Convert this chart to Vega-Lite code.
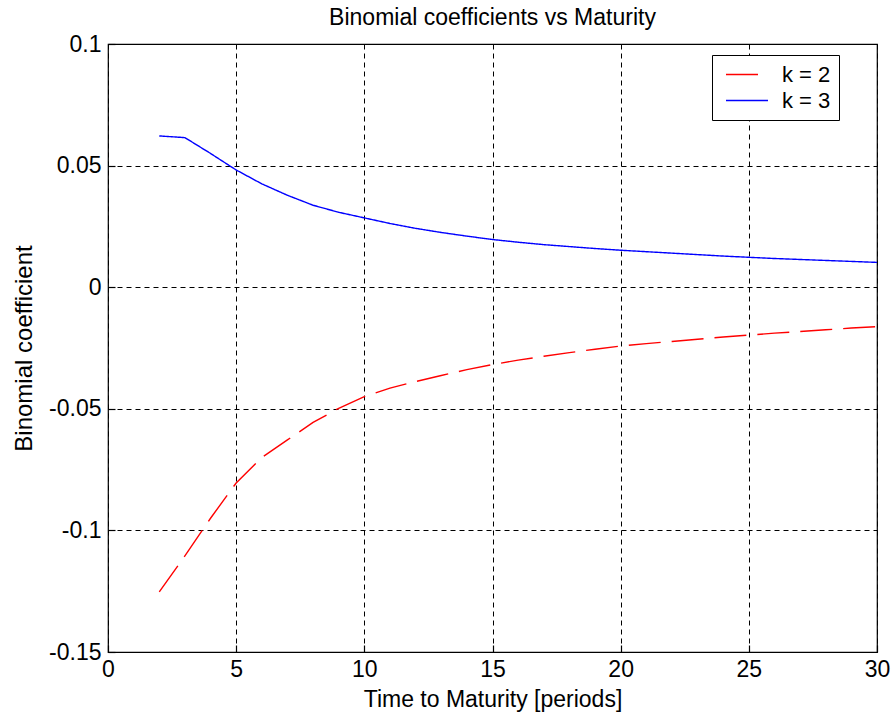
{
  "$schema": "https://vega.github.io/schema/vega-lite/v6.json",
  "width": 769,
  "height": 608,
  "autosize": {"type": "none"},
  "padding": {"left": 108, "top": 44, "right": 15, "bottom": 68},
  "background": "white",
  "title": {"text": "Binomial coefficients vs Maturity", "fontSize": 23, "fontWeight": "normal", "font": "Liberation Sans", "color": "black", "offset": 3, "anchor": "middle"},
  "data": {"values": [
    {"n": 2, "k": "k = 2", "v": -0.1253}, {"n": 3, "k": "k = 2", "v": -0.1105}, {"n": 4, "k": "k = 2", "v": -0.0950}, {"n": 5, "k": "k = 2", "v": -0.0805}, {"n": 6, "k": "k = 2", "v": -0.0700}, {"n": 7, "k": "k = 2", "v": -0.0628}, {"n": 8, "k": "k = 2", "v": -0.0556}, {"n": 9, "k": "k = 2", "v": -0.0498}, {"n": 10, "k": "k = 2", "v": -0.0450}, {"n": 11, "k": "k = 2", "v": -0.0415}, {"n": 12, "k": "k = 2", "v": -0.0388}, {"n": 13, "k": "k = 2", "v": -0.0363}, {"n": 14, "k": "k = 2", "v": -0.0339}, {"n": 15, "k": "k = 2", "v": -0.0318}, {"n": 16, "k": "k = 2", "v": -0.0300}, {"n": 17, "k": "k = 2", "v": -0.0284}, {"n": 18, "k": "k = 2", "v": -0.0269}, {"n": 19, "k": "k = 2", "v": -0.0255}, {"n": 20, "k": "k = 2", "v": -0.0242}, {"n": 21, "k": "k = 2", "v": -0.0232}, {"n": 22, "k": "k = 2", "v": -0.0223}, {"n": 23, "k": "k = 2", "v": -0.0214}, {"n": 24, "k": "k = 2", "v": -0.0205}, {"n": 25, "k": "k = 2", "v": -0.0197}, {"n": 26, "k": "k = 2", "v": -0.0189}, {"n": 27, "k": "k = 2", "v": -0.0182}, {"n": 28, "k": "k = 2", "v": -0.0175}, {"n": 29, "k": "k = 2", "v": -0.0168}, {"n": 30, "k": "k = 2", "v": -0.0162},
    {"n": 2, "k": "k = 3", "v": 0.0622}, {"n": 3, "k": "k = 3", "v": 0.0615}, {"n": 4, "k": "k = 3", "v": 0.0550}, {"n": 5, "k": "k = 3", "v": 0.0482}, {"n": 6, "k": "k = 3", "v": 0.0425}, {"n": 7, "k": "k = 3", "v": 0.0378}, {"n": 8, "k": "k = 3", "v": 0.0337}, {"n": 9, "k": "k = 3", "v": 0.0308}, {"n": 10, "k": "k = 3", "v": 0.0285}, {"n": 11, "k": "k = 3", "v": 0.0262}, {"n": 12, "k": "k = 3", "v": 0.0242}, {"n": 13, "k": "k = 3", "v": 0.0225}, {"n": 14, "k": "k = 3", "v": 0.0210}, {"n": 15, "k": "k = 3", "v": 0.0196}, {"n": 16, "k": "k = 3", "v": 0.0185}, {"n": 17, "k": "k = 3", "v": 0.0175}, {"n": 18, "k": "k = 3", "v": 0.0167}, {"n": 19, "k": "k = 3", "v": 0.0159}, {"n": 20, "k": "k = 3", "v": 0.0152}, {"n": 21, "k": "k = 3", "v": 0.0146}, {"n": 22, "k": "k = 3", "v": 0.0140}, {"n": 23, "k": "k = 3", "v": 0.0134}, {"n": 24, "k": "k = 3", "v": 0.0128}, {"n": 25, "k": "k = 3", "v": 0.0123}, {"n": 26, "k": "k = 3", "v": 0.0118}, {"n": 27, "k": "k = 3", "v": 0.0114}, {"n": 28, "k": "k = 3", "v": 0.0110}, {"n": 29, "k": "k = 3", "v": 0.0106}, {"n": 30, "k": "k = 3", "v": 0.0102}
  ]},
  "mark": {"type": "line", "strokeWidth": 1.4, "interpolate": "linear"},
  "encoding": {
    "x": {"field": "n", "type": "quantitative", "scale": {"domain": [0, 30], "nice": false, "zero": false},
      "axis": {"title": "Time to Maturity [periods]", "values": [0, 5, 10, 15, 20, 25, 30], "labelExpr": "datum.value + ''", "titlePadding": 7}},
    "y": {"field": "v", "type": "quantitative", "scale": {"domain": [-0.15, 0.1], "nice": false, "zero": false},
      "axis": {"title": "Binomial coefficient", "values": [-0.15, -0.1, -0.05, 0, 0.05, 0.1], "labelExpr": "datum.value + ''", "titlePadding": 12, "titleFontSize": 24}},
    "color": {"field": "k", "type": "nominal", "scale": {"domain": ["k = 2", "k = 3"], "range": ["#ff0000", "#0000ff"]},
      "legend": {"title": null, "orient": "none", "legendX": 604, "legendY": 11, "symbolType": "M-0.524,0H3.476", "symbolSize": 441, "symbolStrokeWidth": 1.4, "symbolFillColor": "transparent", "labelFontSize": 22, "labelFont": "Liberation Sans", "labelColor": "black", "labelOffset": 39, "padding": 8, "rowPadding": 3, "strokeColor": "black", "fillColor": "white", "labelExpr": "datum.label + '\u00a0\u00a0\u00a0\u00a0'"}},
    "strokeDash": {"field": "k", "type": "nominal", "scale": {"domain": ["k = 2", "k = 3"], "range": [[32, 11], [1, 0]]}, "legend": null}
  },
  "config": {
    "view": {"stroke": "black", "strokeWidth": 1.2},
    "axis": {
      "domain": false,
      "grid": true, "gridColor": "black", "gridDash": [5, 4], "gridWidth": 1, "gridOpacity": 1,
      "ticks": true, "tickColor": "black", "tickSize": -7, "tickWidth": 1.2,
      "labelFont": "Liberation Sans", "labelFontSize": 23, "labelColor": "black", "labelPadding": 14,
      "titleFont": "Liberation Sans", "titleFontSize": 23, "titleFontWeight": "normal", "titleColor": "black"
    },
    "axisX": {"labelPadding": 13, "labelFlush": false},
    "axisY": {"labelPadding": 14, "labelFlush": false}
  }
}
